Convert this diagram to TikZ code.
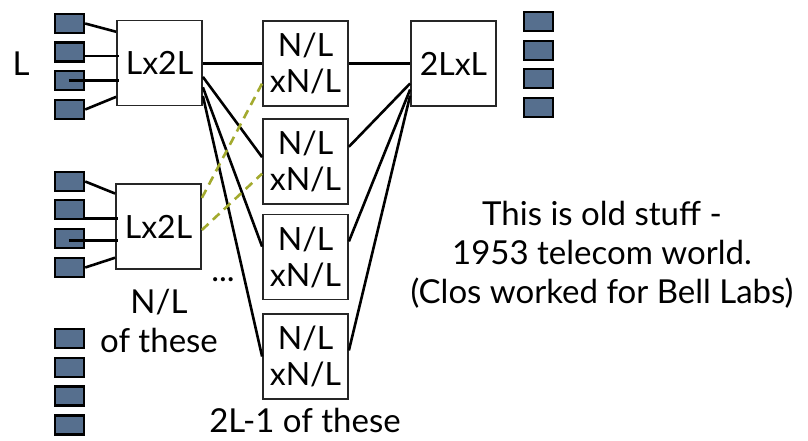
\documentclass[tikz,border=0pt]{standalone}
\usepackage{fontspec}
\setmainfont{Lato}
\usetikzlibrary{calc}

\definecolor{portblue}{HTML}{566F8E}
\definecolor{spareolive}{HTML}{A3AA2E}

\tikzset{
  port/.style={draw=black, line width=2.4pt, fill=portblue,
    minimum width=29pt, minimum height=19pt, inner sep=0pt},
  switchbox/.style={draw=black!85, line width=1.8pt, fill=white,
    minimum width=85pt, minimum height=85pt, inner sep=0pt, align=center,
    font=\fontsize{32}{36}\selectfont},
  wire/.style={line width=2.6pt},
  spare/.style={spareolive, line width=2.6pt, dash pattern=on 9pt off 6pt},
  lbl/.style={font=\fontsize{33}{39}\selectfont, align=center, inner sep=0pt}
}

\begin{document}
\begin{tikzpicture}[x=1pt, y=-1pt]
    \useasboundingbox (0,0) rectangle (808,440);

    % switches
    \node[switchbox] (inA) at (159.5,63) {Lx2L};
    \node[switchbox] (inB) at (158.5,226.5) {Lx2L};
    \node[switchbox] (mid1) at (305.5,63.5) {N/L\\xN/L};
    \node[switchbox] (mid2) at (305.5,161.5) {N/L\\xN/L};
    \node[switchbox] (mid3) at (305.5,257) {N/L\\xN/L};
    \node[switchbox] (mid4) at (305.5,356.5) {N/L\\xN/L};
    \node[switchbox] (out) at (453.5,63.5) {2LxL};

    % ports, first input switch
    \node[port] (p1) at (69.5,23.5) {};
    \node[port] (p2) at (69.5,52) {};
    \node[port] (p3) at (69.5,80.5) {};
    \node[port] (p4) at (69.5,109.5) {};
    % ports, second input switch
    \node[port] (q1) at (69.5,181.5) {};
    \node[port] (q2) at (69.5,209.5) {};
    \node[port] (q3) at (69.5,238.5) {};
    \node[port] (q4) at (69.5,267.5) {};
    % ports, not wired
    \node[port] (s1) at (69.5,338.5) {};
    \node[port] (s2) at (69.5,367.5) {};
    \node[port] (s3) at (69.5,396) {};
    \node[port] (s4) at (69.5,425) {};
    % output ports
    \node[port] (r1) at (538.5,21.5) {};
    \node[port] (r2) at (538.5,50.5) {};
    \node[port] (r3) at (538.5,78.5) {};
    \node[port] (r4) at (538.5,107.5) {};

    % ports into the input switches
    \draw[wire] (p1.east) -- ($(inA.north west)!0.14!(inA.south west)$);
    \draw[wire] ($(p2.east)+(0,4)$) -- ($(p2.east -| inA.west)+(3,4)$);
    \draw[wire] ($(p3.west)+(15,0)$) -- ($(p3.east -| inA.west)+(3,0)$);
    \draw[wire] (p4.east) -- ($(inA.north west)!0.89!(inA.south west)$);
    \draw[wire] (q1.east) -- ($(inB.north west)!0.12!(inB.south west)$);
    \draw[wire] ($(q2.east)+(0,9)$) -- ($(q2.east -| inB.west)+(3,9)$);
    \draw[wire] ($(q3.west)+(15,2)$) -- ($(q3.east -| inB.west)+(3,2)$);
    \draw[wire] (q4.east) -- ($(inB.north west)!0.86!(inB.south west)$);

    % first input switch to the middle stage
    \draw[wire] (inA.east |- mid1.west) -- (mid1.west);
    \draw[wire] ($(inA.north east)!0.66!(inA.south east)$) -- ($(mid2.north west)!0.45!(mid2.south west)$);
    \draw[wire] ($(inA.north east)!0.78!(inA.south east)$) -- ($(mid3.north west)!0.38!(mid3.south west)$);
    \draw[wire] ($(inA.north east)!0.88!(inA.south east)$) -- ($(mid4.north west)!0.5!(mid4.south west)$);

    % second input switch, dashed
    \draw[spare] ($(inB.north east)!0.17!(inB.south east)$) -- ($(mid1.north west)!0.73!(mid1.south west)$);
    \draw[spare] ($(inB.north east)!0.54!(inB.south east)$) -- ($(mid2.north west)!0.64!(mid2.south west)$);

    % middle stage to the output switch
    \draw[wire] (mid1.east) -- (out.west |- mid1.east);
    \draw[wire] ($(mid2.north east)!0.33!(mid2.south east)$) -- ($(out.north west)!0.73!(out.south west)$);
    \draw[wire] ($(mid3.north east)!0.32!(mid3.south east)$) -- ($(out.north west)!0.8!(out.south west)$);
    \draw[wire] ($(mid4.north east)!0.43!(mid4.south east)$) -- ($(out.north west)!0.87!(out.south west)$);

    % labels (base = last line)
    \node[lbl, anchor=base] (ell) at (21,75) {L};
    \node[lbl, anchor=base] (more) at (223,281) {...};
    \node[lbl, anchor=base] (nl) at (159,352) {N/L\\of these};
    \node[lbl, anchor=base] (count) at (305,432) {2L-1 of these};
    \node[lbl, anchor=base] (note) at (602,303) {This is old stuff -\\1953 telecom world.\\(Clos worked for Bell Labs)};
\end{tikzpicture}
\end{document}
